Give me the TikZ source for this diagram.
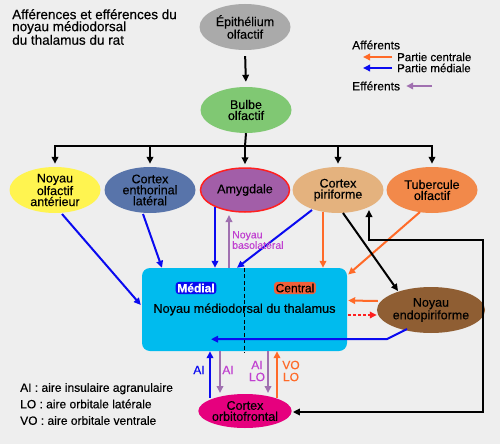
\documentclass[tikz,border=0pt]{standalone}
\usepackage{fontspec}
\setmainfont{Liberation Sans}[FakeBold=0.35]
\usetikzlibrary{shapes.geometric,arrows.meta,calc}
\definecolor{bgc}{HTML}{EEEEEE}
\definecolor{cgray}{HTML}{AAAAAA}
\definecolor{cgreen}{HTML}{80C873}
\definecolor{cyellow}{HTML}{FFF450}
\definecolor{cslate}{HTML}{5874AA}
\definecolor{cpurple}{HTML}{A25EA8}
\definecolor{cred}{HTML}{FF2020}
\definecolor{ctan}{HTML}{E4B27E}
\definecolor{corange}{HTML}{F2894A}
\definecolor{cbrown}{HTML}{8F5E33}
\definecolor{cmagenta}{HTML}{E6007E}
\definecolor{ccyan}{HTML}{00BBEE}
\definecolor{cblue}{HTML}{0A0AF0}
\definecolor{cora}{HTML}{FF6A28}
\definecolor{cpur}{HTML}{A070B0}
\definecolor{cpurtxt}{HTML}{C040D0}
\definecolor{ccentral}{HTML}{F0603A}
\begin{document}
\begin{tikzpicture}[x=1pt,y=-1pt,
  ell/.style={ellipse, minimum width=91pt, minimum height=46pt, inner sep=0pt, align=center, font=\fontsize{12.5}{11}\selectfont},
  lnk/.style={line width=2pt},
  arr/.style={lnk, -{Triangle[length=7pt,width=6.5pt]}},
  blu/.style={arr, draw=cblue, color=cblue},
  ora/.style={arr, draw=cora, color=cora},
  pur/.style={arr, draw=cpur, color=cpur},
  blk/.style={arr, draw=black},
  lbl/.style={font=\fontsize{12}{12}\selectfont, align=center, inner sep=0pt}
]
\fill[bgc] (0,0) rectangle (500,444);
\useasboundingbox (0,0) rectangle (500,444);

% title
\node[font=\fontsize{13.5}{12}\selectfont, align=left, anchor=north west, inner sep=0pt] (title) at (12,9)
  {Afférences et efférences du\\noyau médiodorsal\\du thalamus du rat};

% ellipses
\node[ell, fill=cgray] (epi) at (245,27) {Épithélium\\olfactif};
\node[ell, fill=cgreen] (bul) at (246,110) {Bulbe\\olfactif};
\node[ell, fill=cyellow] (noa) at (55,190) {Noyau\\olfactif\\antérieur};
\node[ell, fill=cslate] (ent) at (150,190) {Cortex\\enthorinal\\latéral};
\node[ell, fill=cpurple, draw=cred, line width=1.5pt, minimum width=89pt, minimum height=44pt] (amy) at (245,190) {Amygdale};
\node[ell, fill=ctan] (pir) at (338,190) {Cortex\\piriforme};
\node[ell, fill=corange] (tub) at (432,190) {Tubercule\\olfactif};
\node[ell, fill=cbrown] (endo) at (431,310) {Noyau\\endopiriforme};
\node[ell, fill=cmagenta, minimum height=34pt] (orb) at (245,411) {Cortex\\orbitofrontal};

% central box
\node[fill=ccyan, rounded corners=8pt, minimum width=205pt, minimum height=83pt, inner sep=0pt] (md) at (244.5,309.5) {};
\draw[line width=1.8pt, dash pattern=on 4pt off 2.5pt] (md.north) -- ($(md.south)+(0,1.5)$);
\node[font=\fontsize{12.7}{12}\selectfont, inner sep=1pt] (mdt) at (md.center) {Noyau médiodorsal du thalamus};
\node[fill=cblue, text=white, font=\fontsize{12}{12}\selectfont\bfseries, rounded corners=3pt, inner sep=1.6pt] (med) at (196,288) {Médial};
\node[fill=ccentral, font=\fontsize{12}{12}\selectfont, rounded corners=3pt, inner sep=1.6pt] (cen) at (295,288) {Central};

% olfactory tree
\coordinate (bar) at (245,146);
\draw[blk, shorten <=6pt, shorten >=5pt] (epi.south) -- (bul.north);
\draw[lnk] (bul.south) -- (bar);
\draw[lnk, line cap=rect] (bar -| noa.north) -- (bar -| tub.north);
\foreach \n in {noa,ent,amy,pir,tub} {
  \draw[blk, shorten >=3pt] (bar -| \n.north) -- (\n.north);
}

% blue afferents (partie médiale)
\draw[blu] ($(noa.center)+(7,24)$) -- ($(md.west)+(-1,-4.5)$);
\draw[blu] ($(ent.center)+(-7,24)$) -- ($(md.north)+(-82.5,0)$);
\draw[blu] ($(amy.center)+(-30,17)$) -- ($(md.north)+(-29.5,0)$);
\draw[blu] ($(pir.center)+(-26,20)$) -- ($(md.north)+(-7.5,0)$);
\coordinate (bend) at (387,339);
\draw[blu] ($(endo.center)+(-24,19)$) -- (bend) -- ($(md.south)+(-33.5,-12)$);
\draw[blu] ($(orb.center)+(-35,-13)$) -- ($(md.south)+(-34.5,0)$);

% orange afferents (partie centrale)
\draw[ora] ($(pir.center)+(-15,22)$) -- ($(md.north)+(78.5,0)$);
\draw[ora] ($(tub.center)+(-12,22)$) -- ($(md.east)+(1,-35)$);
\draw[ora] ($(endo.west)+(1,-9)$) -- ($(md.east)+(1,-9)$);
\draw[ora] ($(orb.center)+(32,-13)$) -- ($(md.south)+(32.5,0)$);

% red dotted
\draw[lnk, draw=cred, dash pattern=on 3pt off 2pt, -{Triangle[length=7pt,width=6.5pt]}, color=cred] ($(md.east)+(1,5.5)$) -- ($(endo.west)+(0,5)$);

% black
\draw[blk] ($(pir.center)+(5,23)$) -- ($(endo.center)+(-33,-19)$);
\coordinate (loopA) at (369,240);
\coordinate (loopB) at (483,240);
\coordinate (loopC) at (483,412);
\draw[lnk, {Triangle[length=7pt,width=6.5pt]}-{Triangle[length=7pt,width=6.5pt]}] ($(pir.center)+(31,20)$) -- (loopA) -- (loopB) -- (loopC) -- ($(orb.east)+(1,1)$);

% purple efferents
\draw[pur] ($(md.north)+(-15.5,0)$) -- ($(amy.center)+(-16,25)$);
\draw[pur] ($(md.south)+(-24.5,0)$) -- ($(orb.center)+(-25,-18)$);
\draw[pur] ($(md.south)+(23.5,0)$) -- ($(orb.center)+(23,-18)$);

% arrow labels
\node[font=\fontsize{10.5}{10.5}\selectfont, text=cpurtxt, align=left, anchor=west, inner sep=0pt] (baso) at (232,240) {Noyau\\basolatéral};
\node[lbl, text=cblue] (l1) at (199,370) {AI};
\node[lbl, text=cpurtxt] (l2) at (228,370) {AI};
\node[lbl, text=cpurtxt] (l3) at (257,371) {AI\\LO};
\node[lbl, text=cora] (l4) at (291,371) {VO\\LO};

% legend
\node[font=\fontsize{12}{12}\selectfont, anchor=west, inner sep=0pt] (aff) at (352,45) {Afférents};
\node[font=\fontsize{11.5}{12}\selectfont, anchor=west, inner sep=0pt] (pc) at (397,57) {Partie centrale};
\node[font=\fontsize{11.5}{12}\selectfont, anchor=west, inner sep=0pt] (pm) at (397,68) {Partie médiale};
\node[font=\fontsize{12}{12}\selectfont, anchor=west, inner sep=0pt] (eff) at (352,86) {Efférents};
\coordinate (pcA) at (363,57); \coordinate (pmA) at (363,68);
\coordinate (efA) at (432,86);
\draw[ora] ($(pc.west)+(-5,0)$) -- (pcA);
\draw[blu] ($(pm.west)+(-5,0)$) -- (pmA);
\draw[pur] (efA) -- ($(eff.east)+(6,0)$);

% abbreviations
\node[font=\fontsize{12}{16.5}\selectfont, align=left, anchor=west, inner sep=0pt] (abbr) at (20,404)
  {AI : aire insulaire agranulaire\\LO : aire orbitale latérale\\VO : aire orbitale ventrale};
\end{tikzpicture}
\end{document}
